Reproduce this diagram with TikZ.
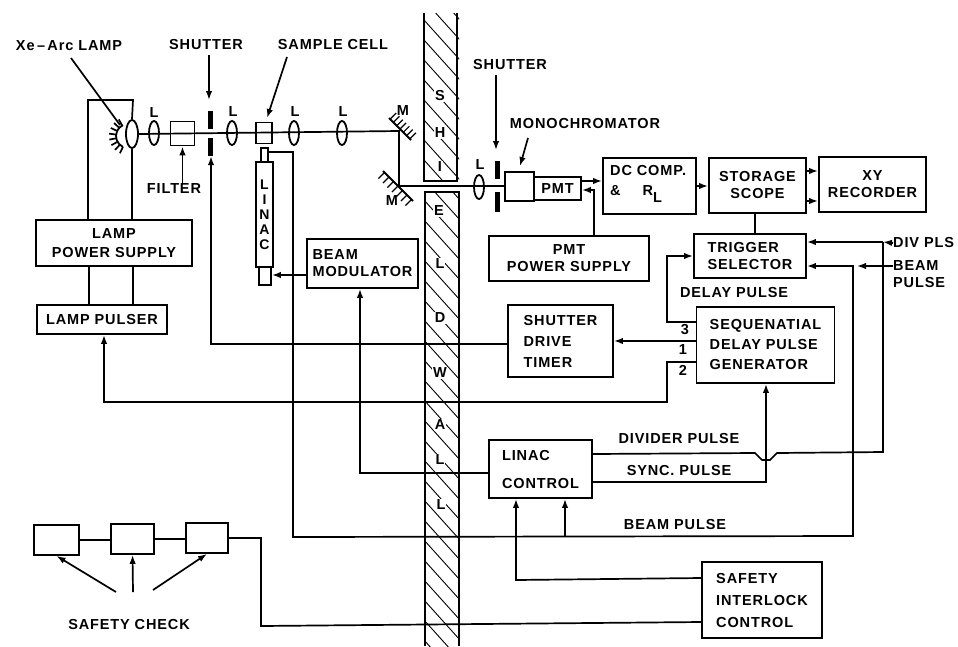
\documentclass[tikz,border=0pt]{standalone}
\usepackage{fontspec}
\setmainfont[LetterSpace=6]{Liberation Sans}
\usetikzlibrary{arrows.meta,positioning,calc,shapes.geometric}

\begin{document}
\begin{tikzpicture}[
  x=1pt, y=-1pt,
  box/.style = {draw, line width=1.8pt, inner sep=0pt, align=center, font=\fontsize{14.5}{17}\selectfont\bfseries},
  lbl/.style = {inner sep=0pt, align=center, font=\fontsize{14.5}{17}\selectfont\bfseries},
  wallchar/.style = {inner sep=1pt, fill=white, font=\fontsize{14.5}{15}\selectfont\bfseries},
  lens/.style = {draw, ellipse, line width=1.8pt, inner sep=0pt, minimum width=10pt, minimum height=24pt},
  bar/.style = {fill=black, inner sep=0pt, minimum width=5pt, minimum height=18pt},
  wire/.style = {line width=1.7pt},
  arr/.style = {-{Latex[length=9pt,width=6.5pt]}, line width=1.7pt}
]
\useasboundingbox (0,0) rectangle (958,646);

% shield wall
\begin{scope}
\clip (424,13) rectangle (459,646);
\foreach \k in {-20,0,...,640} {
  \draw[line width=0.9pt] (424,\k) -- ++(36,40);
}
\fill[white] (420,181) rectangle (465,192);
\end{scope}
\draw[line width=1.8pt] (424,13) -- (424,181) -- (457,181) -- (457,13);
\draw[line width=1.8pt] (425,646) -- (425,192) -- (459,192) -- (459,646);
\node[wallchar] (w1) at (440,96) {S};
\node[wallchar] (w2) at (440,133) {H};
\node[wallchar] (w3) at (440,167) {I};
\node[wallchar] (w4) at (439,211) {E};
\node[wallchar] (w5) at (440,264) {L};
\node[wallchar] (w6) at (440,318) {D};
\node[wallchar] (w7) at (440,373) {W};
\node[wallchar] (w8) at (440,425) {A};
\node[wallchar] (w9) at (440,460) {L};
\node[wallchar] (w10) at (441,505) {L};

% optics on the left side
\node[draw, ellipse, line width=1.8pt, inner sep=0pt, minimum width=12pt, minimum height=28pt] (lamp) at (132,134) {};
\coordinate (lampc) at (128,136);
\draw[line width=1.8pt, shift={(lampc)}] (115:12) arc (115:245:12);
\foreach \a in {115,133,...,245} {
  \draw[wire, shift={(lampc)}] (\a:12) -- (\a:19);
}
\node[lens] (l1) at (154,133) {};
\node[box, minimum width=24pt, minimum height=24pt] (filter) at (182.5,133.5) {};
\node[bar] (s1a) at (210,120) {};
\node[bar] (s1b) at (210,147) {};
\node[lens] (l2) at (232,133) {};
\node[box, minimum width=16pt, minimum height=21pt] (cell) at (264,133) {};
\node[lens] (l3) at (294,133) {};
\node[lens] (l4) at (342,133) {};
\coordinate (m1) at (399,131);
\coordinate (m2) at (399,186);
\draw[line width=1.8pt] (389,118) coordinate (m1a) -- (411,140) coordinate (m1b);
\draw[line width=1.8pt] (383,171) coordinate (m2a) -- (413,201) coordinate (m2b);
\foreach \t in {0.05,0.2,...,1} {
  \draw[line width=1.2pt] ($(m1a)!\t!(m1b)$) -- ++(6,-6);
  \draw[line width=1.2pt] ($(m2a)!\t!(m2b)$) -- ++(-6,6);
}
\draw[wire] (lamp.east) -- (m1) -- (m2) -- (505,186);

\node[lbl] (t1) at (154,113) {L};
\node[lbl] (t2) at (233,112) {L};
\node[lbl] (t3) at (295,112) {L};
\node[lbl] (t4) at (343,112) {L};
\node[lbl] (t5) at (403,111) {M};
\node[lbl] (t6) at (392,201) {M};
\node[lbl] (t7) at (480,165) {L};
\node[lbl] (xe) at (69,46) {Xe\,--\,Arc LAMP};
\node[lbl] (shuttxt) at (206,45) {SHUTTER};
\node[lbl] (celltxt) at (333,45) {SAMPLE CELL};
\node[lbl] (filtxt) at (174,189) {FILTER};
\coordinate (xeend) at (120,125);
\coordinate (celltip) at (267,118);
\draw[wire] (71,58) -- (xeend);
\draw[arr] (209,55) -- ++(0,45);
\draw[arr] (287,57) -- (celltip);
\draw[arr] (filtxt.north -| filter) -- (filter.south);

% optics on the right side
\node[lens] (l5) at (479,187) {};
\node[bar] (s2a) at (497,170) {};
\node[bar, minimum height=20pt] (s2b) at (497,202) {};
\node[box, minimum width=29pt, minimum height=29pt] (mono) at (519.5,186.5) {};
\node[box, minimum width=47pt, minimum height=23pt] (pmt) at (557.5,188.5) {PMT};
\node[lbl] (shut2txt) at (510,65) {SHUTTER};
\node[lbl] (monotxt) at (585,124) {MONOCHROMATOR};
\draw[arr] (496,75) -- (496,150);
\draw[arr] (528,138) -- (520,166);

% linac tube
\node[draw, line width=1.8pt, inner sep=0pt, minimum width=7pt, minimum height=14pt] (linactop) at (264.5,155) {};
\node[draw, line width=1.8pt, inner sep=0pt, minimum width=12pt, minimum height=18pt] (linacbot) at (265,276) {};
\node[draw, line width=1.8pt, fill=white, inner sep=0pt, minimum width=17pt, minimum height=105pt, align=center, font=\fontsize{14}{15}\selectfont\bfseries] (linac) at (264.5,214.5) {L\\I\\N\\A\\C};

% boxes
\node[box, minimum width=156pt, minimum height=46pt] (lps) at (114,243) {LAMP\\[2pt]POWER SUPPLY};
\node[box, minimum width=130pt, minimum height=29pt] (pulser) at (102,319.5) {LAMP PULSER};
\node[box, minimum width=111pt, minimum height=49pt, align=left] (modul) at (362.5,263.5) {BEAM\\MODULATOR};
\node[box, minimum width=93pt, minimum height=56pt] (dc) at (649.5,186) {};
\node[lbl, align=left, anchor=north west] (dctxt) at (610,165) {DC COMP.\\[3pt]\&\hspace{22pt}R\raisebox{-7pt}{L}};
\node[box, minimum width=97pt, minimum height=55pt] (scope) at (757.5,185.5) {STORAGE\\SCOPE};
\node[box, minimum width=107pt, minimum height=55pt] (xy) at (872.5,184.5) {XY\\RECORDER};
\node[box, minimum width=160pt, minimum height=45pt] (pmtps) at (569,258.5) {PMT\\POWER SUPPLY};
\node[box, minimum width=112pt, minimum height=44pt, align=left] (trig) at (750,256) {TRIGGER\\SELECTOR};
\node[box, minimum width=105pt, minimum height=72pt, align=left] (drive) at (560.5,341) {SHUTTER\\[4pt]DRIVE\\[4pt]TIMER};
\node[box, minimum width=138pt, minimum height=76pt, align=left] (seq) at (765.5,345) {SEQUENATIAL\\[3pt]DELAY PULSE\\[3pt]GENERATOR};
\node[box, minimum width=103pt, minimum height=58pt, align=left] (ctrl) at (540.5,469) {LINAC\\[11pt]CONTROL};
\node[box, minimum width=120pt, minimum height=76pt, align=left] (safety) at (762,600) {SAFETY\\[5pt]INTERLOCK\\[5pt]CONTROL};
\node[draw, line width=1.8pt, minimum width=45pt, minimum height=30pt, inner sep=0pt] (chk1) at (56.5,540) {};
\node[draw, line width=1.8pt, minimum width=43pt, minimum height=30pt, inner sep=0pt] (chk2) at (132.5,539) {};
\node[draw, line width=1.8pt, minimum width=42pt, minimum height=30pt, inner sep=0pt] (chk3) at (207,538) {};

% free labels
\node[lbl] (n3) at (685,330) {3};
\node[lbl] (n1) at (683,350) {1};
\node[lbl] (n2) at (683,370) {2};
\node[lbl] (delay) at (734,293) {DELAY PULSE};
\node[lbl] (divtxt) at (679,438) {DIVIDER PULSE};
\node[lbl] (synctxt) at (679,470) {SYNC. PULSE};
\node[lbl] (beamtxt) at (675,524) {BEAM PULSE};
\node[lbl, anchor=west] (divpls) at (893,243) {DIV PLS};
\node[lbl, anchor=north west, align=left] (beampls) at (893,260) {BEAM\\PULSE};
\node[lbl] (chktxt) at (129,624) {SAFETY CHECK};

% lamp wiring
\draw[wire] (lps.north -| 88,0) -- (88,100) -- (133,100) -- (lamp.north);
\draw[wire] (lamp.south) -- (lps.north -| lamp.south);
\draw[wire] (lps.south -| 89,0) -- (pulser.north -| 89,0);
\draw[wire] (lps.south -| 133,0) -- (pulser.north -| 133,0);

% detector chain
\draw[arr] (pmt.east |- 0,181) -- (dc.west |- 0,181);
\draw[arr] (pmtps.north -| 594,0) -- (594,190) -- (pmt.east |- 0,190);
\draw[arr] (dc.east) -- (scope.west |- dc.east);
\draw[arr] (scope.east |- 0,171) -- (xy.west |- 0,171);
\draw[arr] (scope.east |- 0,201) -- (xy.west |- 0,201);
\draw[wire] (scope.south -| 755,0) -- (trig.north -| 755,0);

% timing lines
\draw[arr] (seq.west |- 0,322) -- (667,322) -- (667,256) -- (trig.west |- 0,256);
\draw[arr] (seq.west |- 0,341) -- (drive.east |- 0,341);
\draw[arr] (drive.west |- 0,344) -- (211,344) -- (s1b.south -| 211,0);
\draw[arr] (seq.west |- 0,362) -- (667,362) -- (667,402) -- (104,402) -- (pulser.south -| 104,0);
\draw[arr] (ctrl.east |- 0,482) -- (766,482) -- (seq.south -| 766,0);
\draw[wire] (ctrl.east |- 0,454) -- (755,453) -- (762,460) -- (770,460) -- (777,453) -- (883,452) -- (883,242);
\draw[arr] (883,242) -- (trig.east |- 0,242);
\draw[arr] (divpls.west) -- (883,242);
\draw[arr] (linactop.east |- 0,152) -- (293,152) -- (293,537) -- (853,536) -- (853,266) -- (trig.east |- 0,266);
\draw[arr] (beampls.west |- 0,266) -- (857,266);
\draw[arr] (565,537) -- (ctrl.south -| 565,0);
\draw[arr] (ctrl.west |- 0,473) -- (360,473) -- (modul.south -| 360,0);
\draw[arr] (modul.west |- 0,275) -- (linacbot.east |- 0,275);
\draw[arr] (safety.west |- 0,578) -- (516,580) -- (ctrl.south -| 516,0);

% safety chain
\draw[wire] (chk1.east |- 0,540) -- (chk2.west |- 0,540);
\draw[wire] (chk2.east |- 0,539) -- (chk3.west |- 0,539);
\draw[wire] (chk3.east) -- (261,538) -- (261,626) -- (safety.west |- 0,622);
\draw[arr] (116,592) -- (chk1.south);
\draw[arr] (133,592) -- (chk2.south);
\draw[arr] (153,590) -- (chk3.south);
\end{tikzpicture}
\end{document}
